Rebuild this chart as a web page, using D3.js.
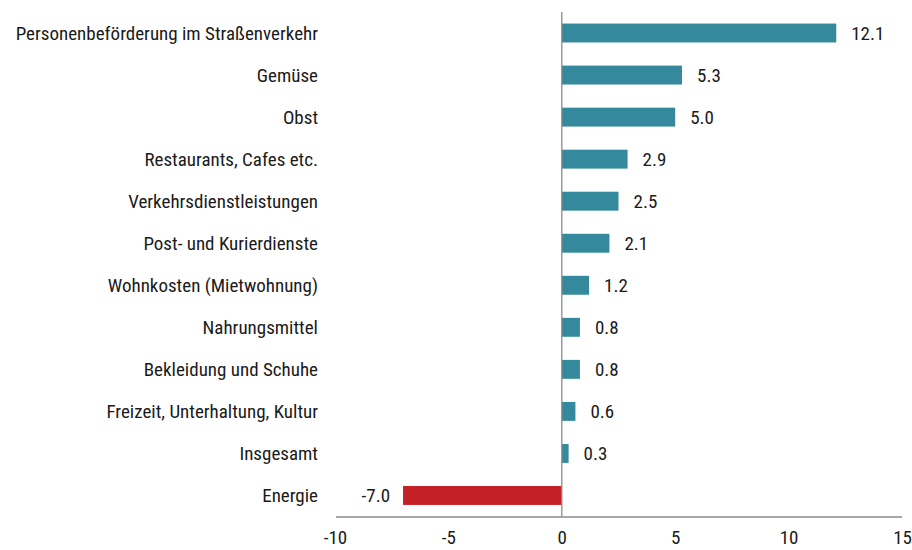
<!DOCTYPE html>
<html>
<head>
<meta charset="utf-8">
<script src="https://cdn.jsdelivr.net/npm/d3@7"></script>
<style>
  body { margin: 0; background: #fff; }
  text { font-family: "Roboto Condensed", "Liberation Sans Narrow", "DejaVu Sans Condensed", sans-serif; fill: #1a1a1a; }
</style>
</head>
<body>
<div id="chart"></div>
<script>
var categories = ["Personenbeförderung im Straßenverkehr", "Gemüse", "Obst", "Restaurants, Cafes etc.",
  "Verkehrsdienstleistungen", "Post- und Kurierdienste", "Wohnkosten (Mietwohnung)", "Nahrungsmittel",
  "Bekleidung und Schuhe", "Freizeit, Unterhaltung, Kultur", "Insgesamt", "Energie"];
var values = [12.1, 5.3, 5.0, 2.9, 2.5, 2.1, 1.2, 0.8, 0.8, 0.6, 0.3, -7.0];
var xTicks = [-10, -5, 0, 5, 10, 15];

var w = 912, h = 550;
var fontSize = "19px";

var svg = d3.select("#chart").append("svg")
  .attr("width", w)
  .attr("height", h);

var x = d3.scaleLinear().domain([-10, 15]).range([335, 902]);
var y = d3.scaleBand().domain(categories).range([12, 516.5]).paddingInner(0.55).paddingOuter(0.275);

var data = categories.map(function(c, i) { return {cat: c, val: values[i]}; });

// bars
svg.selectAll("rect.bar")
  .data(data)
  .enter()
  .append("rect")
  .attr("class", "bar")
  .attr("x", function(d) { return x(Math.min(0, d.val)); })
  .attr("y", function(d) { return y(d.cat); })
  .attr("width", function(d) { return Math.abs(x(d.val) - x(0)); })
  .attr("height", y.bandwidth())
  .attr("fill", function(d) { return d.val < 0 ? "#c42127" : "#348a9c"; });

// zero line
svg.append("line")
  .attr("x1", x(0)).attr("x2", x(0))
  .attr("y1", 12).attr("y2", 517)
  .attr("stroke", "#8a8a8a")
  .attr("stroke-width", 1.3);

// category labels
svg.selectAll("text.cat")
  .data(data)
  .enter()
  .append("text")
  .attr("class", "cat")
  .attr("x", 318)
  .attr("y", function(d) { return y(d.cat) + y.bandwidth() / 2; })
  .attr("dy", "0.35em")
  .attr("text-anchor", "end")
  .attr("font-size", fontSize)
  .text(function(d) { return d.cat; });

// value labels
svg.selectAll("text.val")
  .data(data)
  .enter()
  .append("text")
  .attr("class", "val")
  .attr("x", function(d) { return d.val < 0 ? x(d.val) - 13 : x(d.val) + 15; })
  .attr("y", function(d) { return y(d.cat) + y.bandwidth() / 2; })
  .attr("dy", "0.35em")
  .attr("text-anchor", function(d) { return d.val < 0 ? "end" : "start"; })
  .attr("font-size", fontSize)
  .text(function(d) { return d.val.toFixed(1); });

// x axis
var xAxis = svg.append("g")
  .attr("transform", "translate(0,517)")
  .call(d3.axisBottom(x).tickValues(xTicks).tickSize(0).tickPadding(14)
    .tickFormat(function(d) { return String(d); }));

xAxis.select(".domain").remove();
xAxis.append("line")
  .attr("x1", 336).attr("x2", 902)
  .attr("stroke", "#8a8a8a")
  .attr("stroke-width", 1.5);
xAxis.selectAll("text")
  .attr("font-size", fontSize)
  .style("font-family", "\"Roboto Condensed\", \"Liberation Sans Narrow\", \"DejaVu Sans Condensed\", sans-serif")
  .attr("fill", "#1a1a1a");
</script>
</body>
</html>
